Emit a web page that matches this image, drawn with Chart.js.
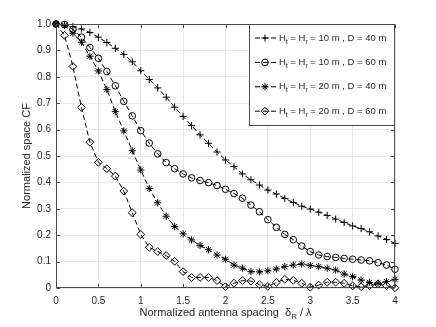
<!DOCTYPE html>
<html>
<head>
<meta charset="utf-8">
<script src="https://cdn.jsdelivr.net/npm/chart.js@4.4.1/dist/chart.umd.min.js"></script>
<style>
  html, body { margin: 0; padding: 0; background: #fff; }
  #wrap { width: 436px; height: 327px; }
</style>
</head>
<body>
<div id="wrap"><canvas id="cfChart" width="436" height="327"></canvas></div>
<script>
"use strict";

// Normalized antenna spacing (delta_R / lambda)
const spacing = [0, 0.1, 0.2, 0.3, 0.4, 0.5, 0.6, 0.7, 0.8, 0.9,
  1.0, 1.1, 1.2, 1.3, 1.4, 1.5, 1.6, 1.7, 1.8, 1.9,
  2.0, 2.1, 2.2, 2.3, 2.4, 2.5, 2.6, 2.7, 2.8, 2.9,
  3.0, 3.1, 3.2, 3.3, 3.4, 3.5, 3.6, 3.7, 3.8, 3.9, 4.0];

// Ht = Hr = 10 m, D = 40 m
const cfH10D40 = [1.0, 0.997, 0.99, 0.981, 0.968, 0.95, 0.93, 0.908, 0.885, 0.857,
  0.823, 0.79, 0.758, 0.723, 0.685, 0.65, 0.615, 0.58, 0.548, 0.515,
  0.485, 0.46, 0.432, 0.41, 0.39, 0.371, 0.356, 0.339, 0.324, 0.31,
  0.299, 0.287, 0.275, 0.261, 0.248, 0.235, 0.225, 0.213, 0.197, 0.184, 0.169];

// Ht = Hr = 10 m, D = 60 m
const cfH10D60 = [1.0, 0.998, 0.979, 0.95, 0.911, 0.87, 0.82, 0.766, 0.707, 0.652,
  0.596, 0.549, 0.508, 0.475, 0.452, 0.432, 0.417, 0.407, 0.399, 0.388,
  0.374, 0.358, 0.34, 0.314, 0.289, 0.259, 0.23, 0.203, 0.183, 0.159,
  0.138, 0.125, 0.119, 0.116, 0.112, 0.109, 0.106, 0.103, 0.096, 0.087, 0.071];

// Ht = Hr = 20 m, D = 40 m
const cfH20D40 = [1.0, 0.995, 0.965, 0.931, 0.878, 0.822, 0.752, 0.668, 0.595, 0.52,
  0.447, 0.377, 0.323, 0.272, 0.233, 0.205, 0.182, 0.161, 0.145, 0.125,
  0.109, 0.087, 0.075, 0.062, 0.061, 0.065, 0.072, 0.081, 0.087, 0.091,
  0.085, 0.081, 0.075, 0.068, 0.053, 0.043, 0.03, 0.021, 0.018, 0.024, 0.033];

// Ht = Hr = 20 m, D = 60 m
const cfH20D60 = [1.0, 0.957, 0.839, 0.684, 0.552, 0.476, 0.452, 0.424, 0.367, 0.285,
  0.203, 0.154, 0.138, 0.123, 0.101, 0.062, 0.04, 0.04, 0.04, 0.028,
  0.005, 0.018, 0.028, 0.026, 0.013, 0.006, 0.021, 0.033, 0.029, 0.018,
  0.003, 0.011, 0.022, 0.022, 0.018, 0.008, 0.005, 0.009, 0.015, 0.009, 0.001];

// Legend labels ("_x" marks a subscript character)
const seriesLabels = [
  "H_t = H_r = 10 m , D = 40 m",
  "H_t = H_r = 10 m , D = 60 m",
  "H_t = H_r = 20 m , D = 40 m",
  "H_t = H_r = 20 m , D = 60 m"
];
const markerStyles = ["cross", "circle", "star", "rectRot"];
const markerSizes = [3.6, 3.3, 3.6, 3.9];

const xAxisTitle = "Normalized antenna spacing  \u03B4_R / \u03BB";
const yAxisTitle = "Normalized space CF";

const FONT = "'Liberation Sans', Arial, Helvetica, sans-serif";
const TEXT_COLOR = "#262626";
const AXIS_COLOR = "#4a4a4a";
const GRID_COLOR = "#e8e8e8";

// Split text into normal / subscript parts
function richParts(text) {
  const parts = [];
  let buf = "";
  for (let i = 0; i < text.length; i++) {
    if (text[i] === "_" && i + 1 < text.length) {
      if (buf) parts.push({ t: buf, sub: false });
      parts.push({ t: text[i + 1], sub: true });
      buf = "";
      i++;
    } else {
      buf += text[i];
    }
  }
  if (buf) parts.push({ t: buf, sub: false });
  return parts;
}

function richWidth(ctx, parts, size) {
  let w = 0;
  parts.forEach((p) => {
    ctx.font = `${p.sub ? size * 0.72 : size}px ${FONT}`;
    w += ctx.measureText(p.t).width;
  });
  return w;
}

function drawRich(ctx, parts, x, y, size) {
  ctx.textAlign = "left";
  ctx.textBaseline = "middle";
  parts.forEach((p) => {
    ctx.font = `${p.sub ? size * 0.72 : size}px ${FONT}`;
    ctx.fillText(p.t, x, p.sub ? y + size * 0.38 : y);
    x += ctx.measureText(p.t).width;
  });
}

// Box, inward ticks, x title and legend drawn MATLAB style
const decorPlugin = {
  id: "decor",
  afterDraw(chart) {
    const ctx = chart.ctx;
    const area = chart.chartArea;
    const xScale = chart.scales.x;
    const yScale = chart.scales.y;
    const L = Math.round(area.left) + 0.5;
    const R = Math.round(area.right) - 0.5;
    const T = Math.round(area.top) + 0.5;
    const B = Math.round(area.bottom) - 0.5;

    ctx.save();
    ctx.strokeStyle = AXIS_COLOR;
    ctx.lineWidth = 1;
    ctx.setLineDash([]);

    // inward ticks
    ctx.beginPath();
    xScale.ticks.forEach((t) => {
      const px = Math.round(xScale.getPixelForValue(t.value)) + 0.5;
      ctx.moveTo(px, B); ctx.lineTo(px, B - 3.5);
      ctx.moveTo(px, T); ctx.lineTo(px, T + 3.5);
    });
    yScale.ticks.forEach((t) => {
      const py = Math.round(yScale.getPixelForValue(t.value)) + 0.5;
      ctx.moveTo(L, py); ctx.lineTo(L + 3.5, py);
      ctx.moveTo(R, py); ctx.lineTo(R - 3.5, py);
    });
    ctx.stroke();
    ctx.strokeRect(L, T, R - L, B - T);

    // x axis title with subscript
    ctx.fillStyle = TEXT_COLOR;
    const titleParts = richParts(xAxisTitle);
    const titleSize = 11;
    const tw = richWidth(ctx, titleParts, titleSize);
    drawRich(ctx, titleParts, (area.left + area.right) / 2 - tw / 2, 313, titleSize);

    // legend
    const boxL = 249.5;
    const boxB = 125.5;
    ctx.fillStyle = "#fff";
    ctx.fillRect(boxL, T, R - boxL, boxB - T);
    ctx.strokeStyle = AXIS_COLOR;
    ctx.strokeRect(boxL, T, R - boxL, boxB - T);

    chart.data.datasets.forEach((ds, i) => {
      const cy = T + 13.5 + i * 24.4;
      ctx.strokeStyle = "#000";
      ctx.lineWidth = 1;
      ctx.setLineDash([5, 3]);
      ctx.beginPath();
      ctx.moveTo(255, cy);
      ctx.lineTo(277, cy);
      ctx.stroke();
      ctx.setLineDash([]);
      ctx.fillStyle = "rgba(0,0,0,0)";
      Chart.helpers.drawPoint(ctx, {
        pointStyle: markerStyles[i],
        radius: markerSizes[i],
        rotation: 0,
        borderWidth: 1
      }, 265, cy);
      ctx.fillStyle = TEXT_COLOR;
      drawRich(ctx, richParts(seriesLabels[i]), 279, cy, 9.5);
    });
    ctx.restore();
  }
};

const seriesValues = [cfH10D40, cfH10D60, cfH20D40, cfH20D60];

const datasets = seriesValues.map((values, i) => ({
  label: seriesLabels[i],
  data: spacing.map((x, k) => ({ x, y: values[k] })),
  borderColor: "#000",
  borderWidth: 1,
  borderDash: [5, 3],
  pointStyle: markerStyles[i],
  pointRadius: markerSizes[i],
  pointBorderColor: "#000",
  pointBackgroundColor: "rgba(0,0,0,0)",
  pointBorderWidth: 1,
  tension: 0,
  fill: false,
  clip: false
}));

const ctx = document.getElementById("cfChart").getContext("2d");
new Chart(ctx, {
  type: "line",
  data: { datasets },
  options: {
    responsive: false,
    animation: false,
    devicePixelRatio: 1,
    layout: { padding: { left: 0, top: 24, right: 41, bottom: 0 } },
    plugins: {
      legend: { display: false },
      tooltip: { enabled: false }
    },
    scales: {
      x: {
        type: "linear",
        min: 0,
        max: 4,
        grid: { color: GRID_COLOR, drawTicks: false },
        border: { display: false },
        ticks: {
          stepSize: 0.5,
          padding: 7,
          color: TEXT_COLOR,
          font: { family: FONT, size: 10 },
          maxRotation: 0,
          callback: (v) => String(v)
        },
        afterFit: (scale) => { scale.height = 39; }
      },
      y: {
        min: 0,
        max: 1,
        grid: { color: GRID_COLOR, drawTicks: false },
        border: { display: false },
        ticks: {
          stepSize: 0.1,
          padding: 5,
          color: TEXT_COLOR,
          font: { family: FONT, size: 10 },
          callback: (v) => (v === 0 ? "0" : v.toFixed(1))
        },
        title: {
          display: true,
          text: yAxisTitle,
          color: TEXT_COLOR,
          font: { family: FONT, size: 11 },
          padding: { top: 20, bottom: 0 }
        },
        afterFit: (scale) => { scale.width = 56; }
      }
    }
  },
  plugins: [decorPlugin]
});
</script>
</body>
</html>
